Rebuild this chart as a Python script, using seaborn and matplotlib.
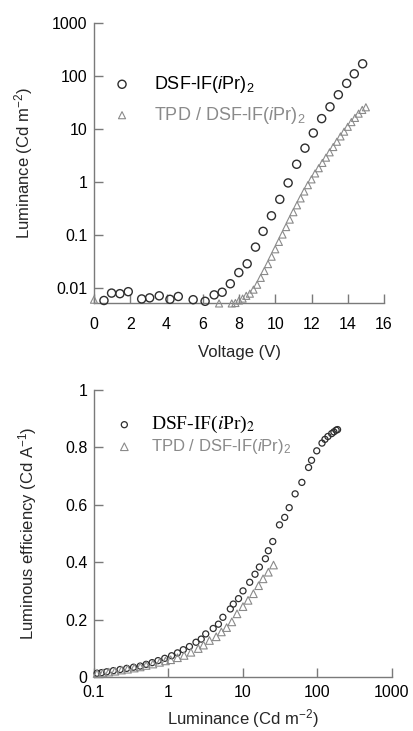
import matplotlib
matplotlib.use('Agg')
import matplotlib.pyplot as plt
import seaborn as sns

# Top panel: luminance (Cd m-2) against voltage (V)
volt_dsf = [0.55, 0.97, 1.43, 1.89, 2.63, 3.07, 3.60, 4.19, 4.65, 5.47, 6.13, 6.63,
            7.07, 7.52, 7.99, 8.45, 8.91, 9.33, 9.79, 10.25, 10.71, 11.18, 11.64,
            12.10, 12.56, 13.02, 13.48, 13.94, 14.36, 14.82]
lum_dsf = [0.0058, 0.0080, 0.0078, 0.0085, 0.0062, 0.0065, 0.0071, 0.0061, 0.0069,
           0.0060, 0.0056, 0.0074, 0.0083, 0.0120, 0.0195, 0.0286, 0.059, 0.117,
           0.23, 0.47, 0.96, 2.16, 4.35, 8.4, 15.7, 26.2, 44.3, 72.6, 110, 170]

volt_tpd = [0.0, 6.9, 7.6, 7.8, 8.0, 8.2, 8.4, 8.6, 8.8, 9.0, 9.2, 9.4, 9.6, 9.8,
            10.0, 10.2, 10.4, 10.6, 10.8, 11.0, 11.2, 11.4, 11.6, 11.8, 12.0, 12.2,
            12.4, 12.6, 12.8, 13.0, 13.2, 13.4, 13.6, 13.8, 14.0, 14.2, 14.4, 14.6,
            14.8, 15.0]
lum_tpd = [0.0060, 0.0051, 0.0051, 0.0052, 0.0058, 0.0063, 0.0071, 0.0078, 0.0093,
           0.0115, 0.0155, 0.0209, 0.0282, 0.0389, 0.0537, 0.0741, 0.102, 0.141,
           0.195, 0.269, 0.363, 0.490, 0.661, 0.871, 1.12, 1.45, 1.82, 2.29, 2.88,
           3.63, 4.57, 5.75, 7.24, 8.91, 11.0, 13.5, 16.2, 19.5, 22.9, 25.7]

# Bottom panel: luminous efficiency (Cd A-1) against luminance (Cd m-2)
lum_eff_dsf = [0.110, 0.126, 0.148, 0.182, 0.224, 0.275, 0.339, 0.417, 0.501, 0.603,
               0.724, 0.891, 1.10, 1.32, 1.58, 1.91, 2.34, 2.75, 3.16, 3.98, 4.68,
               5.37, 6.76, 7.41, 8.71, 10.0, 12.3, 14.5, 16.6, 20.0, 21.9, 25.1, 30.9,
               36.3, 41.7, 50.1, 61.7, 75.9, 83.2, 97.7, 115, 126, 138, 155, 166, 178, 186]
eff_dsf = [0.013, 0.015, 0.018, 0.022, 0.026, 0.030, 0.034, 0.038, 0.044, 0.050,
           0.057, 0.065, 0.074, 0.084, 0.095, 0.106, 0.121, 0.132, 0.150, 0.169,
           0.184, 0.208, 0.237, 0.254, 0.273, 0.300, 0.330, 0.358, 0.383, 0.412,
           0.440, 0.472, 0.530, 0.556, 0.590, 0.638, 0.678, 0.730, 0.755, 0.788,
           0.815, 0.828, 0.838, 0.848, 0.854, 0.860, 0.862]

lum_eff_tpd = [0.110, 0.132, 0.158, 0.191, 0.234, 0.282, 0.347, 0.417, 0.501, 0.617,
               0.759, 0.912, 1.07, 1.32, 1.62, 2.00, 2.51, 2.95, 3.55, 4.37, 5.13,
               6.03, 7.08, 8.32, 10.0, 11.7, 13.8, 16.2, 18.6, 21.9, 25.7]
eff_tpd = [0.012, 0.014, 0.017, 0.020, 0.024, 0.027, 0.031, 0.035, 0.040, 0.045,
           0.051, 0.056, 0.060, 0.067, 0.075, 0.086, 0.099, 0.111, 0.127, 0.140,
           0.157, 0.172, 0.192, 0.220, 0.245, 0.267, 0.290, 0.318, 0.342, 0.365, 0.390]

volt_ticks = [0, 2, 4, 6, 8, 10, 12, 14, 16]
lum_ticks = [0.01, 0.1, 1, 10, 100, 1000]
lum_tick_labels = ['0.01', '0.1', '1', '10', '100', '1000']
lumx_ticks = [0.1, 1, 10, 100, 1000]
lumx_tick_labels = ['0.1', '1', '10', '100', '1000']
eff_ticks = [0, 0.2, 0.4, 0.6, 0.8, 1]
eff_tick_labels = ['0', '0.2', '0.4', '0.6', '0.8', '1']

label_dsf = r'DSF-IF($\mathit{i}$Pr)$_2$'
label_tpd = r'TPD / DSF-IF($\mathit{i}$Pr)$_2$'

DARK = '#2e2e2e'
GREY = '#8a8a8a'
AXIS = '#7a7a7a'

sns.set_style('ticks')
plt.rcParams['font.family'] = ['Liberation Sans', 'DejaVu Sans']
plt.rcParams['mathtext.fontset'] = 'custom'
plt.rcParams['mathtext.rm'] = 'Liberation Sans'
plt.rcParams['mathtext.it'] = 'Liberation Sans:italic'
plt.rcParams['mathtext.bf'] = 'Liberation Sans:bold'


def style_axes(ax, xpad):
    sns.despine(ax=ax)
    for side in ['left', 'bottom']:
        ax.spines[side].set_color(AXIS)
        ax.spines[side].set_linewidth(1)
    ax.tick_params(which='major', direction='in', length=6.5, width=1, color=AXIS,
                   labelsize=11.5, labelcolor='black')
    ax.tick_params(axis='y', pad=4.5)
    ax.tick_params(axis='x', pad=xpad)
    ax.minorticks_off()
    ax.grid(False)


fig = plt.figure(figsize=(4.13, 7.31), dpi=100)

# Top panel
ax1 = fig.add_axes([0.2276, 0.5855, 0.7022, 0.3830])
sns.scatterplot(x=volt_dsf, y=lum_dsf, ax=ax1, marker='o', s=34, facecolor='none',
                edgecolor=DARK, linewidth=1.0, label=label_dsf, clip_on=False, zorder=3)
sns.scatterplot(x=volt_tpd, y=lum_tpd, ax=ax1, marker='^', s=26, facecolor='none',
                edgecolor=GREY, linewidth=0.8, label=label_tpd, clip_on=False, zorder=3)
ax1.set_yscale('log')
ax1.set_xlim(0, 16)
ax1.set_ylim(0.0052, 1000)
ax1.set_xticks(volt_ticks)
ax1.set_xticklabels([str(v) for v in volt_ticks])
ax1.set_yticks(lum_ticks)
ax1.set_yticklabels(lum_tick_labels)
style_axes(ax1, xpad=10)
ax1.set_xlabel('Voltage (V)', fontsize=12)
ax1.set_ylabel(r'Luminance (Cd m$^{-2}$)', fontsize=12)
ax1.xaxis.set_label_coords(0.5, -0.15)
ax1.yaxis.set_label_coords(-0.203, 0.5)
leg1 = ax1.legend(loc='upper left', bbox_to_anchor=(113 / 413, 1 - 74 / 731),
                  bbox_transform=fig.transFigure, frameon=False, fontsize=13,
                  handlelength=1.0, handletextpad=1.25, labelspacing=0.55,
                  borderpad=0, borderaxespad=0)
leg1.get_texts()[0].set_color('black')
leg1.get_texts()[1].set_color(GREY)

# Bottom panel
ax2 = fig.add_axes([0.2276, 0.0739, 0.7215, 0.3926])
sns.scatterplot(x=lum_eff_dsf, y=eff_dsf, ax=ax2, marker='o', s=19, facecolor='none',
                edgecolor=DARK, linewidth=0.9, label=label_dsf, clip_on=False, zorder=3)
sns.scatterplot(x=lum_eff_tpd, y=eff_tpd, ax=ax2, marker='^', s=30, facecolor='none',
                edgecolor=GREY, linewidth=0.8, label=label_tpd, clip_on=False, zorder=3)
ax2.set_xscale('log')
ax2.set_xlim(0.1, 1000)
ax2.set_ylim(0, 1)
ax2.set_xticks(lumx_ticks)
ax2.set_xticklabels(lumx_tick_labels)
ax2.set_yticks(eff_ticks)
ax2.set_yticklabels(eff_tick_labels)
style_axes(ax2, xpad=5.5)
ax2.set_xlabel(r'Luminance (Cd m$^{-2}$)', fontsize=12)
ax2.set_ylabel(r'Luminous efficiency (Cd A$^{-1}$)', fontsize=12)
ax2.xaxis.set_label_coords(0.5, -0.105)
ax2.yaxis.set_label_coords(-0.185, 0.5)
leg2 = ax2.legend(loc='upper left', bbox_to_anchor=(116 / 413, 1 - 414 / 731),
                  bbox_transform=fig.transFigure, frameon=False, fontsize=12,
                  handlelength=1.0, handletextpad=1.1, labelspacing=0.12,
                  borderpad=0, borderaxespad=0)
t0, t1 = leg2.get_texts()
t0.set_fontfamily(['Liberation Serif', 'DejaVu Serif'])
t0.set_math_fontfamily('stix')
t0.set_fontsize(14)
t0.set_color('black')
t1.set_color(GREY)

fig.savefig('out.png', dpi=100)
